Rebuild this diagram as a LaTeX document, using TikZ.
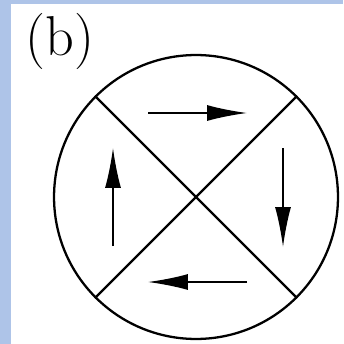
\documentclass[tikz,border=0pt]{standalone}
\usepackage{xcolor}
\usepackage{tikz}
\usetikzlibrary{arrows.meta}
\definecolor{frameblue}{RGB}{174,196,232}

\begin{document}
\begin{tikzpicture}[
    x=0.02cm, y=-0.02cm,
    rim/.style={line width=1.3pt, draw=black},
    flow/.style={line width=0.9pt, -{Latex[length=0.8cm, width=0.32cm]}}
]
    % Background
    \fill[frameblue] (0,0) rectangle (343,344);
    \fill[white] (11,4) rectangle (343,344);
    \useasboundingbox (0,0) rectangle (343,344);

    % Disc and cross
    \node (disc) [circle, rim, minimum size=5.68cm, inner sep=0pt] at (196,197) {};
    \draw [rim] (disc.135) -- (disc.-45);
    \draw [rim] (disc.45) -- (disc.-135);

    % Label
    \node (tag) at (60,41) {\fontsize{32}{38}\selectfont (b)};

    % Flow ends
    \coordinate (topA) at (148,113);
    \coordinate (topB) at (247,113);
    \coordinate (rightA) at (283,148);
    \coordinate (rightB) at (283,247);
    \coordinate (botA) at (247,282);
    \coordinate (botB) at (148,282);
    \coordinate (leftA) at (113,246);
    \coordinate (leftB) at (113,148);

    % Flows
    \draw [flow] (topA) -- (topB);
    \draw [flow] (rightA) -- (rightB);
    \draw [flow] (botA) -- (botB);
    \draw [flow] (leftA) -- (leftB);
\end{tikzpicture}
\end{document}
